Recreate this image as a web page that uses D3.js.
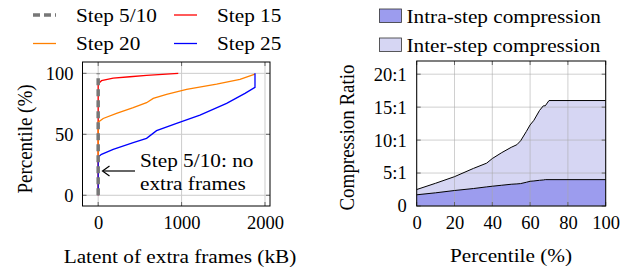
<!DOCTYPE html>
<html><head><meta charset="utf-8">
<script src="https://cdn.jsdelivr.net/npm/d3@7"></script>
<style>body{margin:0;background:#fff;}</style></head>
<body><svg id="c" width="635" height="269"></svg>
<script>
// ---- Left chart data (CDF of latent of extra frames, kB vs percentile) ----
const step510X = [0, 0];
const step510Y = [0, 100];
const step15X = [0, 0, 40, 180, 380, 580, 960];
const step15Y = [0, 91.5, 94, 96, 97.2, 98.3, 100];
const step20X = [0, 0, 60, 220, 420, 580, 660, 820, 1060, 1420, 1700, 1880];
const step20Y = [0, 60, 63, 67.2, 71.8, 75.9, 79.5, 82.8, 86.9, 91.2, 95, 99.4];
const step25X = [0, 0, 40, 180, 420, 580, 700, 940, 1220, 1540, 1760, 1880, 1880];
const step25Y = [0, 31.5, 33.6, 37.7, 43.1, 46.7, 53, 59, 65.8, 75.4, 83.6, 88.5, 100];
const leftXTicks = [0, 1000, 2000];
const leftYTicks = [0, 50, 100];

// ---- Right chart data (compression ratio vs percentile) ----
const pctX = [0, 10, 20, 30, 37, 40, 45, 50, 53, 55, 58, 60, 62, 65, 67, 68, 70, 100];
const intraRatio = [1.7, 2.0, 2.35, 2.65, 2.9, 3.0, 3.15, 3.3, 3.35, 3.4, 3.6, 3.75, 3.8, 3.9, 3.95, 4.0, 4.0, 4.0];
const totalRatio = [2.5, 3.45, 4.45, 5.7, 6.5, 7.2, 8.1, 8.9, 9.3, 9.9, 11.3, 12.3, 13.0, 14.5, 15.2, 15.2, 16.0, 16.0];
const rightXTicks = [0, 20, 40, 60, 80, 100];
const rightYTicks = [0, 5, 10, 15, 20];
const rightYLabels = ["0", "5:1", "10:1", "15:1", "20:1"];

const svg = d3.select("#c");
const FS = 19, TFS = 18.5, SX = 1.12;
const FONT = "Liberation Serif";
const gridColor = "#cccccc";

function txt(parent, x, y, s, anchor, rot) {
  return parent.append("text")
    .attr("transform", `translate(${x},${y}) scale(${SX},1)` + (rot ? ` rotate(${rot})` : ""))
    .attr("text-anchor", anchor || "start")
    .style("font-family", FONT).style("font-size", FS + "px").attr("fill", "#000").text(s);
}
function styleAxis(g, anchor) {
  g.select(".domain").remove();
  g.selectAll(".tick line").remove();
  g.selectAll("text").style("font-family", FONT).style("font-size", TFS + "px").attr("fill", "#000");
}
function innerTicks(g, xs, ys, x, y, box, len) {
  xs.forEach(v => {
    g.append("line").attr("x1", x(v)).attr("x2", x(v)).attr("y1", box.y1).attr("y2", box.y1 - len).attr("stroke", "#666");
    g.append("line").attr("x1", x(v)).attr("x2", x(v)).attr("y1", box.y0).attr("y2", box.y0 + len).attr("stroke", "#666");
  });
  ys.forEach(v => {
    g.append("line").attr("y1", y(v)).attr("y2", y(v)).attr("x1", box.x0).attr("x2", box.x0 + len).attr("stroke", "#666");
    g.append("line").attr("y1", y(v)).attr("y2", y(v)).attr("x1", box.x1).attr("x2", box.x1 - len).attr("stroke", "#666");
  });
}

// ================= LEFT =================
const L = {x0: 82.5, x1: 270, y0: 62, y1: 206};
const xL = d3.scaleLinear().domain([-188, 2060]).range([L.x0, L.x1]);
const yL = d3.scaleLinear().domain([-8.8, 109.3]).range([L.y1, L.y0]);
const gL = svg.append("g");
gL.selectAll(".gx").data(leftXTicks).join("line")
  .attr("x1", d => xL(d)).attr("x2", d => xL(d)).attr("y1", L.y0).attr("y2", L.y1)
  .attr("stroke", gridColor).attr("stroke-width", 1);
gL.selectAll(".gy").data(leftYTicks).join("line")
  .attr("y1", d => yL(d)).attr("y2", d => yL(d)).attr("x1", L.x0).attr("x2", L.x1)
  .attr("stroke", gridColor).attr("stroke-width", 1);
innerTicks(gL, leftXTicks, leftYTicks, xL, yL, L, 4);

const line = d3.line();
function seriesPath(xs, ys) { return line(xs.map((x, i) => [xL(x), yL(ys[i])])); }
gL.append("path").attr("d", seriesPath(step15X, step15Y)).attr("fill", "none").attr("stroke", "#ff0000").attr("stroke-width", 1.3);
gL.append("path").attr("d", seriesPath(step20X, step20Y)).attr("fill", "none").attr("stroke", "#ff8000").attr("stroke-width", 1.3);
gL.append("path").attr("d", seriesPath(step25X, step25Y)).attr("fill", "none").attr("stroke", "#0000ff").attr("stroke-width", 1.3);
gL.append("path").attr("d", seriesPath(step510X, step510Y)).attr("fill", "none").attr("stroke", "#777777").attr("stroke-width", 3.5).attr("stroke-dasharray", "7,4");

gL.append("rect").attr("x", L.x0).attr("y", L.y0).attr("width", L.x1 - L.x0).attr("height", L.y1 - L.y0)
  .attr("fill", "none").attr("stroke", "#000").attr("stroke-width", 1);

const axLx = d3.axisBottom(xL).tickValues(leftXTicks).tickSize(0).tickPadding(10).tickFormat(d3.format("d"));
const axLy = d3.axisLeft(yL).tickValues(leftYTicks).tickSize(0).tickPadding(9).tickFormat(d3.format("d"));
styleAxis(gL.append("g").attr("transform", `translate(0,${L.y1})`).call(axLx));
styleAxis(gL.append("g").attr("transform", `translate(${L.x0},0)`).call(axLy));

// annotation arrow + text
gL.append("line").attr("x1", 135).attr("x2", 103).attr("y1", 171).attr("y2", 171).attr("stroke", "#000").attr("stroke-width", 1.2);
gL.append("path").attr("d", "M109.5,166 L102.5,171 L109.5,176").attr("fill", "none").attr("stroke", "#000").attr("stroke-width", 1.2);
txt(gL, 140, 166.5, "Step 5/10: no");
txt(gL, 140, 190, "extra frames");

txt(gL, 180, 263, "Latent of extra frames (kB)", "middle");
txt(gL, 32, 139, "Percentile (%)", "middle", -90);

// legend left
const legL = [
  {n: "Step 5/10", c: "#777777", dash: "7,4", w: 3.5, x: 33, y: 15},
  {n: "Step 15", c: "#ff0000", dash: null, w: 1.3, x: 174, y: 15},
  {n: "Step 20", c: "#ff8000", dash: null, w: 1.3, x: 33, y: 43.5},
  {n: "Step 25", c: "#0000ff", dash: null, w: 1.3, x: 174, y: 43.5}
];
legL.forEach(d => {
  svg.append("line").attr("x1", d.x).attr("x2", d.x + 23).attr("y1", d.y).attr("y2", d.y)
    .attr("stroke", d.c).attr("stroke-width", d.w).attr("stroke-dasharray", d.dash);
  txt(svg, d.x + 43, d.y + 6.5, d.n);
});

// ================= RIGHT =================
const R = {x0: 416.7, x1: 605.7, y0: 61, y1: 206};
const xR = d3.scaleLinear().domain([0, 100]).range([R.x0, R.x1]);
const yR = d3.scaleLinear().domain([0, 22]).range([R.y1, R.y0]);
const gR = svg.append("g");
const dataR = pctX.map((x, i) => ({x, a: intraRatio[i], t: totalRatio[i]}));
gR.append("path").datum(dataR).attr("d", d3.area().x(d => xR(d.x)).y0(d => yR(d.a)).y1(d => yR(d.t)))
  .attr("fill", "#d6d6f3");
gR.append("path").datum(dataR).attr("d", d3.area().x(d => xR(d.x)).y0(yR(0)).y1(d => yR(d.a)))
  .attr("fill", "#9c9cee");
gR.selectAll(".gx").data(rightXTicks).join("line")
  .attr("x1", d => xR(d)).attr("x2", d => xR(d)).attr("y1", R.y0).attr("y2", R.y1)
  .attr("stroke", "#aaaaaa").attr("stroke-opacity", 0.55).attr("stroke-width", 1);
gR.selectAll(".gy").data(rightYTicks).join("line")
  .attr("y1", d => yR(d)).attr("y2", d => yR(d)).attr("x1", R.x0).attr("x2", R.x1)
  .attr("stroke", "#aaaaaa").attr("stroke-opacity", 0.55).attr("stroke-width", 1);
innerTicks(gR, rightXTicks, rightYTicks, xR, yR, R, 4);
gR.append("path").datum(dataR).attr("d", d3.line().x(d => xR(d.x)).y(d => yR(d.t))).attr("fill", "none").attr("stroke", "#000").attr("stroke-width", 1);
gR.append("path").datum(dataR).attr("d", d3.line().x(d => xR(d.x)).y(d => yR(d.a))).attr("fill", "none").attr("stroke", "#000").attr("stroke-width", 1);
gR.append("rect").attr("x", R.x0).attr("y", R.y0).attr("width", R.x1 - R.x0).attr("height", R.y1 - R.y0)
  .attr("fill", "none").attr("stroke", "#000").attr("stroke-width", 1);

const axRx = d3.axisBottom(xR).tickValues(rightXTicks).tickSize(0).tickPadding(10).tickFormat(d3.format("d"));
const axRy = d3.axisLeft(yR).tickValues(rightYTicks).tickSize(0).tickPadding(10).tickFormat((d, i) => rightYLabels[i]);
styleAxis(gR.append("g").attr("transform", `translate(0,${R.y1})`).call(axRx));
styleAxis(gR.append("g").attr("transform", `translate(${R.x0},0)`).call(axRy));

txt(gR, 511, 262, "Percentile (%)", "middle");
txt(gR, 354, 137.5, "Compression Ratio", "middle", -90);

const legR = [
  {n: "Intra-step compression", c: "#9c9cee", y: 9},
  {n: "Inter-step compression", c: "#d6d6f3", y: 38}
];
legR.forEach(d => {
  svg.append("rect").attr("x", 379.5).attr("y", d.y).attr("width", 22).attr("height", 13.5)
    .attr("fill", d.c).attr("stroke", "#333").attr("stroke-width", 0.8);
  txt(svg, 406.5, d.y + 13.5, d.n);
});
</script></body></html>
